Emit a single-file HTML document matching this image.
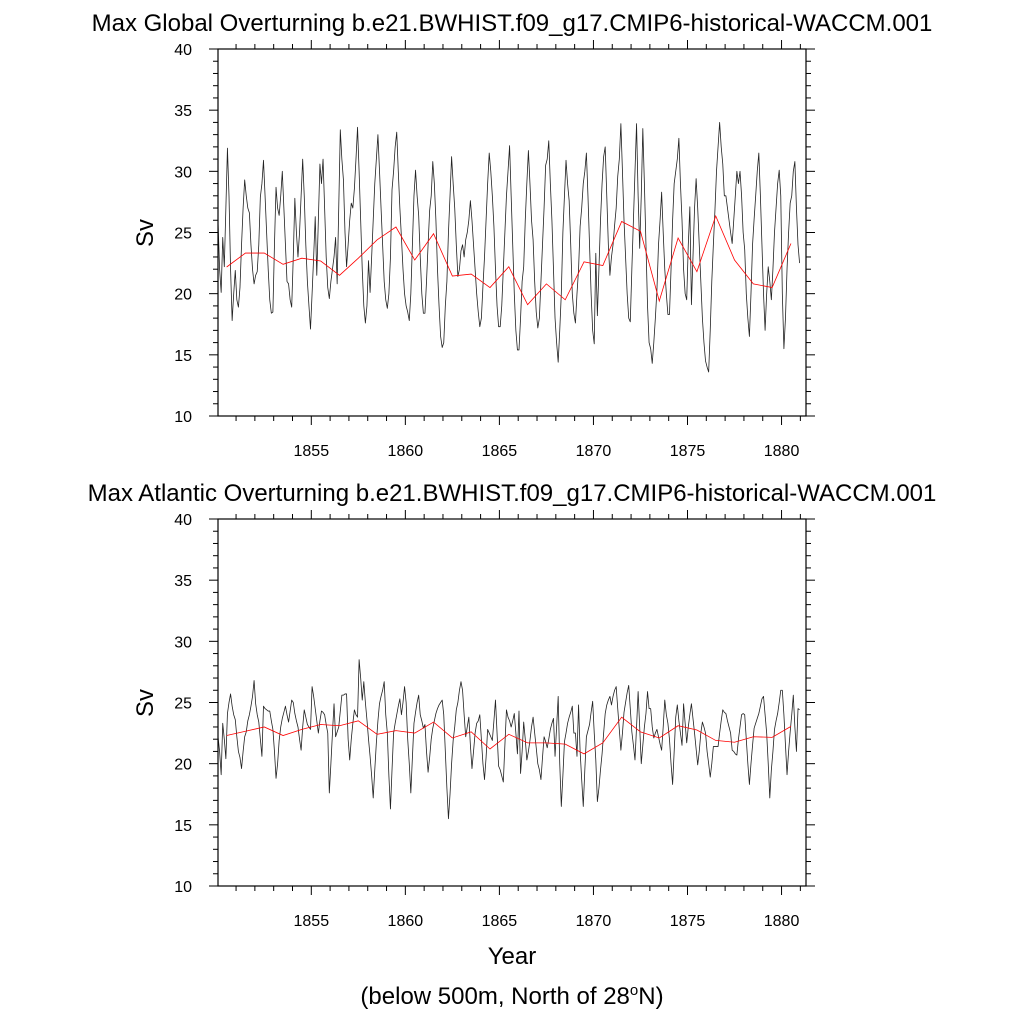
<!DOCTYPE html>
<html><head><meta charset="utf-8"><style>
html,body{margin:0;padding:0;background:#fff;}
svg{display:block;font-family:"Liberation Sans",sans-serif;}
</style></head><body>
<svg id="chart" width="1024" height="1024" viewBox="0 0 1024 1024" xmlns="http://www.w3.org/2000/svg">
<rect x="0" y="0" width="1024" height="1024" fill="#fff"/>
<text x="512" y="31" font-size="24" text-anchor="middle">Max Global Overturning b.e21.BWHIST.f09_g17.CMIP6-historical-WACCM.001</text>
<text x="512" y="501" font-size="24" text-anchor="middle">Max Atlantic Overturning b.e21.BWHIST.f09_g17.CMIP6-historical-WACCM.001</text>
<text x="0" y="0" font-size="24" text-anchor="middle" transform="translate(153,233) rotate(-90)">Sv</text>
<text x="0" y="0" font-size="24" text-anchor="middle" transform="translate(153,703) rotate(-90)">Sv</text>
<text x="512" y="964" font-size="24" text-anchor="middle">Year</text>
<text x="512" y="1004" font-size="24" text-anchor="middle">(below 500m, North of 28<tspan font-size="15" dy="-9">o</tspan><tspan dy="9">N)</tspan></text>
<g id="plots"></g>
</svg>
<script>
var years = [1850,1851,1852,1853,1854,1855,1856,1857,1858,1859,1860,1861,1862,1863,1864,1865,1866,1867,1868,1869,1870,1871,1872,1873,1874,1875,1876,1877,1878,1879,1880];
var yTicks = [10,15,20,25,30,35,40];
var xTickLabels = [1855,1860,1865,1870,1875,1880];

var globalMonthly = [
[25.9,22,20.1,24.6,22.2,27,31.9,28,22,17.8,20,21.9],
[19.5,18.9,20.5,24,27,29.3,28,27,26.6,24,22,20.8],
[21.5,21.8,24,27.9,29,30.9,28,25,22,19.5,18.4,18.5],
[24,28.7,27,26.4,28,30,27,24,21,20.8,19.5,18.9],
[23,27.8,25,23,25,28,31,28,24,21,19,17.1],
[20,23,26.3,21.5,26,30.6,29,31,27,23,20.5,19.6],
[21,22,23,24.6,20.8,27,33.4,31,29.3,25,22.2,24],
[26,27.4,27,28.6,31,33.6,30,26,22,19,17.6,19],
[22.7,20.1,23,26,29,31,33,30.1,27,24,21,19.5],
[18.8,20,23,28.5,30,32,33.2,30,27,24.6,22,20],
[19,18.5,17.8,20,24,28,30.1,28,26.4,23,20,18.4],
[18.4,21,24,26.8,28,30.8,29,26,22,19,16.5,15.6],
[16,19,21,25,28,31.2,29,27,24,21.4,22,23.5],
[24,23,24.4,25,26,27.6,26,24,22,20,18.5,17.3],
[18,20.6,23,26,29,31.5,30,28,25.5,22,19,17.3],
[17.3,19,22,25,28,30,32.1,28,24,20,17,15.4],
[15.4,18,21,22.2,26,29,31.7,29,26,24.4,21,18.5],
[17.2,18,21,24,27,30.5,31,32.5,29,26,22,18],
[16,14.4,17,20,25,28,30.9,29,27.6,24,20,18.4],
[17.6,20,22,25.5,27,29,30,31.5,28,24,20,17],
[15.9,23.3,18.2,22,26,29,31.2,32,28,24,21.5,23],
[24,25.6,27,29.6,31,33.9,30,26,23,20,18,17.7],
[22,26,30,33.9,28,23.7,28,33.5,29,24,19,16],
[15.5,14.3,16,18,20.3,24,26,28.3,25,22,20,18.3],
[18.3,22,26,29,30,31,32.7,29,26,22,20,19.5],
[24,27.1,19.1,23,27,29.4,27,24,21,18,16,14.5],
[14,13.6,17,21,24,26.8,30,32,34,32,30.6,28],
[28,27,26,25,24.1,26,28,30,29,30,28,25],
[23.6,20,18,16.5,20,24,26.1,28,30,31.5,28,24],
[20,17,20,22.2,21,19.5,22,25,27,29,30.1,28],
[20,15.5,18,22,25,27.4,28,30,30.8,27,24,22.5]
];
var globalAnnual = [22.18,23.32,23.32,22.4,22.9,22.67,21.5,22.9,24.4,25.45,22.75,24.9,21.44,21.6,20.5,22.2,19.1,20.8,19.5,22.6,22.3,25.9,25.1,19.4,24.55,21.8,26.35,22.75,20.8,20.5,24.1];

var atlanticMonthly = [
[22.2,21,19.1,23.3,22,20.4,24.1,25,25.7,24.7,24,23.6],
[22.2,21,20.5,19.6,21,22.2,22.6,23.5,24,24.7,25.5,26.8],
[24.9,24,23.4,22,20.6,24.7,24.5,24.4,24.3,24.3,23.5,22.8],
[21,18.8,20,21.9,23,23.7,24.2,24.7,24,23.4,24.3,25.2],
[25,24.1,23.5,23,22,21.1,23,24.4,23.8,23.2,23,22.8],
[26.3,25.5,24.5,23.5,22.5,23.5,24.3,24.2,24,23.2,22.5,17.6],
[20,22.5,24.9,22.2,22.6,23,24.3,25.6,25.6,25.7,25.7,22],
[20.3,22,23.3,24.4,24,23.8,28.5,27,25.2,26.7,25,23.6],
[22,20.6,19,17.2,19.5,21.7,23.5,24.9,25.5,26,26.7,24],
[22.5,19,16.3,19.5,22.5,23.3,24,24.7,25.3,24,25,26.3],
[25,22,20,17.6,20.5,23.3,24.2,25,25.6,24,23.5,22.9],
[23.2,21,19.3,20.5,22,22.9,23.5,24.1,24.5,24.8,25,25.2],
[24,21,18,15.5,17.5,20,21.9,23,24.4,25,26,26.7],
[26,24,22.2,23,23.8,21.5,19.6,21,22.5,23.3,23.5,24],
[22,20,18.7,20.5,22.8,22.5,22.2,21.9,23.5,25.2,22.5,19.8],
[19.5,19,18.5,21.5,24.4,23.8,23.5,23,23.5,24.1,22.5,20.8],
[24.3,19.2,21,23.4,22,20.3,21,21.9,23,23.8,22.5,21.3],
[20,19.5,18.7,20.5,22.2,21.8,21.3,22,22.8,23.3,23.7,20.6],
[23,25.5,20,16.5,19,21.8,22.5,23.3,23.8,24.2,24.7,22.5],
[22.5,20.6,24.8,21,18.7,16.5,19.5,22.2,22.7,23.2,24.2,25.1],
[22.5,20.3,16.9,18,19.5,20.8,22.5,24.1,24.8,25.2,25.5,24.8],
[25.5,26,26.3,24.5,22.8,21.1,22.5,24.2,25,25.8,26.4,24.5],
[22.6,21.5,20.3,23,25.9,23,20,21.5,23,24.1,25.9,24.5],
[24.5,23,22.1,22.5,22.8,22.2,21.6,21.1,23,25.2,24,23.3],
[22,20,18.3,21,23.8,24.8,23.5,22.5,21.5,24.9,23.3,21.7],
[23,24,24.9,23.7,22.5,21.2,19.9,21,22.5,23.4,23,22.5],
[21,20,18.9,20,21.4,21.4,21.4,21.4,22.5,23.5,24.4,24.2],
[24.1,23.5,23,22.5,21.1,21,20.8,20.7,22,23,24,24.1],
[24,22,20,18.3,20,21.5,22.9,23.3,23.7,24.1,24.7,25.3],
[25.5,24,22.5,20,17.2,19.5,21,22.8,23.5,24.1,25,26],
[26,24,21.5,19.1,21,22.6,24,25.6,23,21,24.5,24.4]
];
var atlanticAnnual = [22.3,22.65,23.0,22.3,22.8,23.2,23.1,23.5,22.4,22.7,22.5,23.4,22.1,22.6,21.2,22.4,21.7,21.7,21.6,20.8,21.7,23.8,22.6,22.1,23.1,22.75,21.9,21.75,22.2,22.15,23.05];

var NS = 'http://www.w3.org/2000/svg';
var X0 = 218, X1 = 806, XMIN = 1850.04, XMAX = 1881.3;
function xs(t){ return X0 + (t - XMIN) / (XMAX - XMIN) * (X1 - X0); }
function mk(tag, attrs, parent){
  var e = document.createElementNS(NS, tag);
  for (var k in attrs) e.setAttribute(k, attrs[k]);
  parent.appendChild(e);
  return e;
}
var root = document.getElementById('plots');

function drawPanel(prefix, top, bottom, monthly, annual){
  var ys = function(v){ return bottom - (v - 10) / 30 * (bottom - top); };
  var g = mk('g', {}, root);
  
  
  var pts = [];
  for (var i = 0; i < years.length; i++){
    for (var m = 0; m < 12; m++){
      var t = years[i] + (m + 0.5) / 12;
      pts.push(xs(t).toFixed(2) + ',' + ys(monthly[i][m]).toFixed(2));
    }
  }
  var ml = mk('polyline', {points: pts.join(' '), fill: 'none', stroke: '#222', 'stroke-width': '0.8', 'stroke-linejoin': 'round'}, g);
  
  
  var apts = [];
  for (var j = 0; j < years.length; j++){
    apts.push(xs(years[j] + 0.5).toFixed(2) + ',' + ys(annual[j]).toFixed(2));
  }
  var al = mk('polyline', {points: apts.join(' '), fill: 'none', stroke: '#ff0000', 'stroke-width': '0.8'}, g);
  
  
  var fr = mk('rect', {x: X0, y: top, width: X1 - X0, height: bottom - top, fill: 'none', stroke: '#000', 'stroke-width': '1.2'}, g);
  
  
  var tg = mk('g', {stroke: '#000', 'stroke-width': '1'}, g);
  
  
  for (var v = 10; v <= 40; v++){
    var L = (v % 5 === 0) ? 9 : 5, y = ys(v);
    mk('line', {x1: X0 - L, y1: y, x2: X0, y2: y}, tg);
    mk('line', {x1: X1, y1: y, x2: X1 + L, y2: y}, tg);
  }
  for (var yr = 1851; yr <= 1881; yr++){
    var L2 = (yr % 5 === 0) ? 9 : 5, x = xs(yr);
    mk('line', {x1: x, y1: bottom, x2: x, y2: bottom + L2}, tg);
    mk('line', {x1: x, y1: top - L2, x2: x, y2: top}, tg);
  }
  for (var a = 0; a < yTicks.length; a++){
    var tl = mk('text', {x: 192, y: ys(yTicks[a]) + 6, 'font-size': '16', 'text-anchor': 'end'}, g);
    
    
    tl.textContent = yTicks[a];
  }
  for (var b = 0; b < xTickLabels.length; b++){
    var xl = mk('text', {x: xs(xTickLabels[b]), y: bottom + 40, 'font-size': '16', 'text-anchor': 'middle'}, g);
    
    
    xl.textContent = xTickLabels[b];
  }
}
drawPanel('global', 49, 416, globalMonthly, globalAnnual);
drawPanel('atlantic', 519, 886, atlanticMonthly, atlanticAnnual);
</script>
</body></html>
